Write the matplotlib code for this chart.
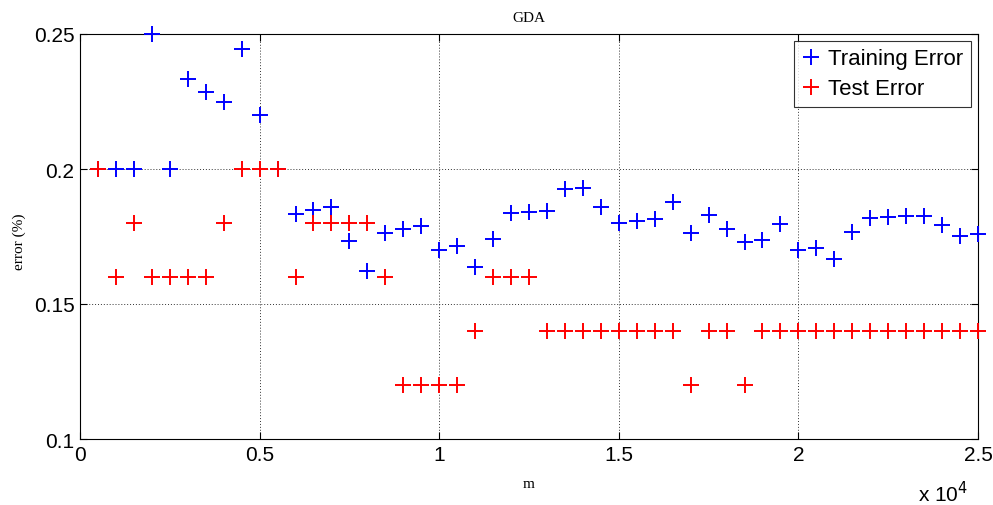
import matplotlib
matplotlib.use("Agg")
import matplotlib.pyplot as plt
from matplotlib.ticker import FuncFormatter

m_values = [500 * i for i in range(1, 51)]
training_error = [0.2, 0.2, 0.2, 0.25, 0.2, 0.2333, 0.2286, 0.225, 0.2444, 0.22,
                  0.2, 0.1835, 0.185, 0.1858, 0.1734, 0.1624, 0.1762, 0.1778, 0.1789, 0.1701,
                  0.1713, 0.1638, 0.174, 0.1836, 0.1841, 0.1846, 0.1926, 0.193, 0.1861, 0.1799,
                  0.1809, 0.1814, 0.1879, 0.1763, 0.1829, 0.1779, 0.173, 0.1736, 0.1795, 0.1699,
                  0.1708, 0.1665, 0.1767, 0.1819, 0.1823, 0.1825, 0.1827, 0.1793, 0.1752, 0.176]
test_error = [0.2, 0.16, 0.18, 0.16, 0.16, 0.16, 0.16, 0.18, 0.2, 0.2,
              0.2, 0.16, 0.18, 0.18, 0.18, 0.18, 0.16, 0.12, 0.12, 0.12,
              0.12, 0.14, 0.16, 0.16, 0.16, 0.14, 0.14, 0.14, 0.14, 0.14,
              0.14, 0.14, 0.14, 0.12, 0.14, 0.14, 0.12, 0.14, 0.14, 0.14,
              0.14, 0.14, 0.14, 0.14, 0.14, 0.14, 0.14, 0.14, 0.14, 0.14]
xticks = [0, 5000, 10000, 15000, 20000, 25000]
yticks = [0.1, 0.15, 0.2, 0.25]

W, H = 993, 506
fig = plt.figure(figsize=(W / 100, H / 100), dpi=100)
ax = fig.add_axes([80 / W, 1 - 440 / H, (978 - 80) / W, (440 - 35) / H])

ax.plot(m_values, training_error, linestyle="none", marker="+", color="#0000ff",
        markersize=11, markeredgewidth=1.4, label="Training Error", clip_on=False, zorder=3)
ax.plot(m_values, test_error, linestyle="none", marker="+", color="#ff0000",
        markersize=11, markeredgewidth=1.4, label="Test Error", clip_on=False, zorder=4)

ax.set_xlim(0, 25000)
ax.set_ylim(0.1, 0.25)
ax.set_xticks(xticks)
ax.set_yticks(yticks)
ax.xaxis.set_major_formatter(FuncFormatter(lambda v, p: "%g" % (v / 1e4)))
ax.yaxis.set_major_formatter(FuncFormatter(lambda v, p: "%g" % v))
ax.grid(True, linestyle=(0, (1, 2)), color="black", linewidth=0.7, alpha=0.8)
ax.set_axisbelow(True)
ax.tick_params(direction="in", length=5, width=0.8, top=True, right=True,
               labelsize=15, pad=4)
for lab in ax.get_xticklabels() + ax.get_yticklabels():
    lab.set_family("Liberation Sans")
for s in ax.spines.values():
    s.set_linewidth(0.8)

ax.set_title("GDA", family="Liberation Serif", fontsize=11, pad=9)
ax.set_xlabel("m", family="Liberation Serif", fontsize=11, labelpad=10)
ax.set_ylabel("error (%)", family="Liberation Serif", fontsize=11)
ax.yaxis.set_label_coords((26 - 80) / 898, 0.49)
fig.text(918 / W, 1 - 494 / H, r"x 10$^4$", family="Liberation Sans", fontsize=15,
         va="center", ha="left")

leg = ax.legend(loc="upper right", prop={"family": "Liberation Sans", "size": 16},
                frameon=True, fancybox=False, edgecolor="black", handlelength=0.8,
                handletextpad=0.4, borderpad=0.35, labelspacing=0.4,
                borderaxespad=0.3)
leg.get_frame().set_linewidth(0.8)

fig.savefig("out.png", dpi=100)
